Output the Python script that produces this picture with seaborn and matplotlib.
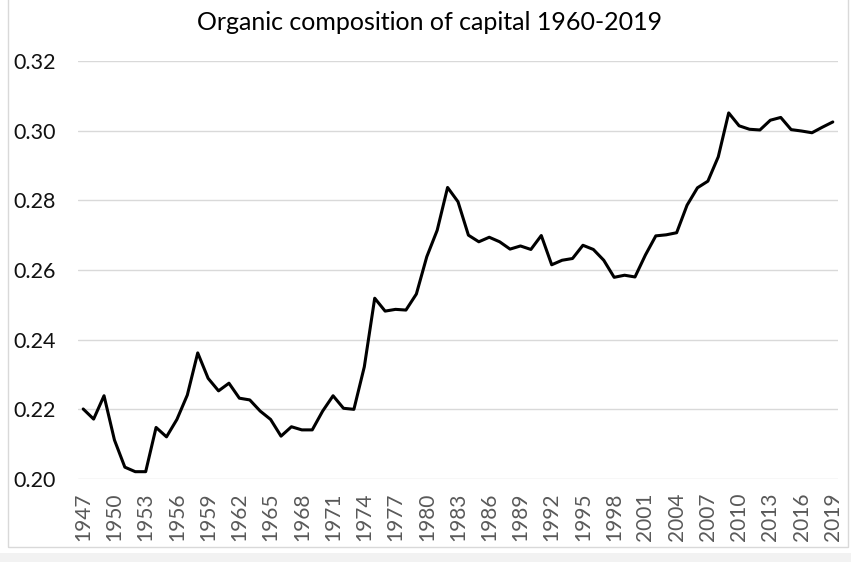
import numpy as np
import pandas as pd
import matplotlib
matplotlib.use("Agg")
import matplotlib.pyplot as plt
import seaborn as sns
from matplotlib.patches import Rectangle

years = list(range(1947, 2020))
occ = [0.2201, 0.2172, 0.2239, 0.2112, 0.2034, 0.2021, 0.2021, 0.2148, 0.2121, 0.2171,
       0.2241, 0.2362, 0.2289, 0.2253, 0.2275, 0.2232, 0.2227, 0.2195, 0.2171, 0.2123,
       0.2150, 0.2141, 0.2141, 0.2195, 0.2239, 0.2203, 0.2200, 0.2322, 0.2519, 0.2482,
       0.2487, 0.2485, 0.2531, 0.2638, 0.2714, 0.2837, 0.2796, 0.2700, 0.2681, 0.2694,
       0.2681, 0.2660, 0.2669, 0.2659, 0.2699, 0.2615, 0.2628, 0.2633, 0.2671, 0.2659,
       0.2628, 0.2579, 0.2585, 0.2580, 0.2643, 0.2698, 0.2701, 0.2707, 0.2786, 0.2836,
       0.2855, 0.2925, 0.3051, 0.3014, 0.3004, 0.3002, 0.3030, 0.3038, 0.3003, 0.2999,
       0.2994, 0.3010, 0.3025]
ytick_vals = [0.20, 0.22, 0.24, 0.26, 0.28, 0.30, 0.32]
title = "Organic composition of capital 1960-2019"

df = pd.DataFrame({"year": years, "occ": occ})

sns.set_style("white")
plt.rcParams["font.family"] = ["Lato", "DejaVu Sans"]

fig = plt.figure(figsize=(8.51, 5.62), dpi=100)
# chart frame and grey strip below it
fig.patches.append(Rectangle((8 / 851, 15 / 562), 840 / 851, 547 / 562 + 0.01,
                             transform=fig.transFigure, fill=False,
                             edgecolor="#d9d9d9", linewidth=1))
fig.patches.append(Rectangle((0, 0), 1, 9 / 562, transform=fig.transFigure,
                             facecolor="#f2f2f2", edgecolor="none"))

ax = fig.add_axes([78 / 851, 1 - 479 / 562, 760 / 851, 418 / 562])
sns.lineplot(data=df, x="year", y="occ", color="black", linewidth=2.2, ax=ax)

ax.set_xlim(1946.5, 2019.5)
ax.set_ylim(0.20, 0.32)
ax.set_yticks(ytick_vals)
ax.set_yticklabels([f"{v:.2f}" for v in ytick_vals], fontsize=15.5, color="#111111")
ax.set_xticks(years[::3])
ax.set_xticklabels([str(y) for y in years[::3]], rotation=90, fontsize=15, color="#595959")
ax.tick_params(axis="both", length=0)
ax.tick_params(axis="y", pad=16)
ax.tick_params(axis="x", pad=10)
ax.yaxis.grid(True, color="#d9d9d9", linewidth=1)
ax.xaxis.grid(False)
for s in ax.spines.values():
    s.set_visible(False)
ax.set_xlabel("")
ax.set_ylabel("")
fig.text(0.505, 1 - 22 / 562, title, ha="center", va="center", fontsize=18, color="black")

fig.savefig("out.png", dpi=100)
